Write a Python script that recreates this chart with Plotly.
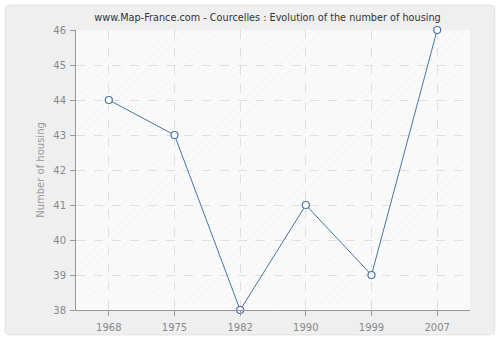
import plotly.graph_objects as go

years = ["1968", "1975", "1982", "1990", "1999", "2007"]
housing = [44, 43, 38, 41, 39, 46]
y_ticks = [38, 39, 40, 41, 42, 43, 44, 45, 46]

fig = go.Figure()

# hatched background of the plot area (on hidden primary axes)
fig.add_trace(go.Scatter(
    x=[0, 1, 1, 0, 0], y=[0, 0, 1, 1, 0], xaxis="x", yaxis="y",
    fill="toself", mode="none", hoverinfo="skip", showlegend=False,
    fillcolor="rgba(0,0,0,0)",
    fillpattern=dict(shape="/", fgcolor="#ebebeb", bgcolor="rgba(0,0,0,0)", size=6, solidity=0.15),
))

fig.add_trace(go.Scatter(
    x=years, y=housing, mode="lines+markers", xaxis="x2", yaxis="y2",
    line=dict(color="#4a74a8", width=1),
    marker=dict(symbol="circle", size=7, color="white", line=dict(color="#4a74a8", width=1.2)),
    showlegend=False, cliponaxis=False,
))

# rounded panel
L, R, B, T = -0.18, 1.063, -0.089, 1.089
rx, ry = 0.0127, 0.0179
panel = (f"M {L+rx} {B} L {R-rx} {B} Q {R} {B} {R} {B+ry} L {R} {T-ry} Q {R} {T} {R-rx} {T} "
         f"L {L+rx} {T} Q {L} {T} {L} {T-ry} L {L} {B+ry} Q {L} {B} {L+rx} {B} Z")

fig.update_layout(
    width=500, height=340,
    margin=dict(l=76, r=30, t=30, b=30, autoexpand=False),
    paper_bgcolor="white",
    plot_bgcolor="#fafafa",
    font=dict(family="DejaVu Sans", size=10, color="#888"),
    title=dict(text="www.Map-France.com - Courcelles : Evolution of the number of housing",
               x=0.535, xanchor="center", y=0.947, yanchor="middle",
               font=dict(size=9.7, color="#333", family="DejaVu Sans")),
    xaxis=dict(range=[0, 1], visible=False, fixedrange=True, showgrid=False, zeroline=False),
    yaxis=dict(range=[0, 1], visible=False, fixedrange=True, showgrid=False, zeroline=False),
    xaxis2=dict(type="category", range=[-0.5, 5.5], overlaying="x", showgrid=True, gridcolor="#dedede",
                griddash="dash", showline=True, linecolor="#999", ticks="outside", ticklen=5,
                tickcolor="#999", zeroline=False, tickfont=dict(color="#888"), ticklabelstandoff=3,
                automargin=False),
    yaxis2=dict(range=[38, 46], tickvals=y_ticks, overlaying="y", showgrid=True, gridcolor="#dedede",
                griddash="dash", showline=True, linecolor="#999", ticks="outside", ticklen=5,
                tickcolor="#999", zeroline=False, ticklabelstandoff=2, automargin=False,
                title=dict(text="Number of housing", font=dict(color="#999", size=10), standoff=6),
                tickfont=dict(color="#888")),
    shapes=[
        dict(type="path", xref="paper", yref="paper", layer="below", path=panel,
             fillcolor="#efefef", line=dict(color="#e2e2e2", width=1)),
        dict(type="rect", xref="paper", yref="paper", layer="below", x0=0, x1=1, y0=0, y1=1,
             fillcolor="#fafafa", line=dict(width=0)),
    ],
)
fig.write_html("out.html")
